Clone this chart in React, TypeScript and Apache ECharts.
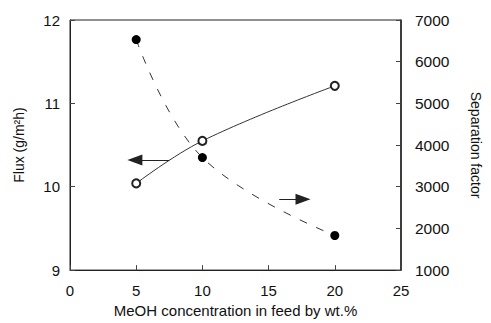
import React, { useEffect, useRef } from "react";
import * as echarts from "echarts";

const xTicks = [0, 5, 10, 15, 20, 25];
const meohConc = [5, 10, 20];
const fluxValues = [10.04, 10.55, 11.21];
const sepFactorValues = [6530, 3700, 1830];
const fluxArrow = [[7.5, 10.32], [4.9, 10.32]];
const sepArrow = [[15.8, 2700], [17.6, 2700]];

export default function App() {
  const ref = useRef<HTMLDivElement>(null);
  useEffect(() => {
    if (!ref.current) return;
    const chart = echarts.init(ref.current, undefined, { renderer: "svg" });
    const font = "Liberation Sans";
    chart.setOption({
      animation: false,
      backgroundColor: "#fff",
      textStyle: { fontFamily: font },
      grid: {
        left: 70,
        right: 78,
        top: 20,
        bottom: 48,
        show: true,
        borderColor: "#222",
        borderWidth: 1,
      },
      xAxis: {
        type: "value",
        min: xTicks[0],
        max: xTicks[xTicks.length - 1],
        interval: 5,
        name: "MeOH concentration in feed by wt.%",
        nameLocation: "middle",
        nameGap: 32,
        nameTextStyle: { color: "#111", fontSize: 15, fontFamily: font },
        axisLine: { lineStyle: { color: "#222", width: 1 } },
        axisTick: { inside: true, length: 5, lineStyle: { color: "#444" } },
        axisLabel: { color: "#111", fontSize: 15, margin: 13, fontFamily: font },
        splitLine: { show: false },
      },
      yAxis: [
        {
          type: "value",
          min: 9,
          max: 12,
          interval: 1,
          position: "left",
          name: "Flux (g/m²h)",
          nameLocation: "middle",
          nameGap: 44,
          nameTextStyle: { color: "#111", fontSize: 14, fontFamily: font },
          axisLine: { show: true, lineStyle: { color: "#222", width: 1 } },
          axisTick: { show: true, inside: true, length: 5, lineStyle: { color: "#444" } },
          axisLabel: { color: "#111", fontSize: 15, margin: 10, fontFamily: font },
          splitLine: { show: false },
        },
        {
          type: "value",
          min: 1000,
          max: 7000,
          interval: 1000,
          position: "right",
          name: "Separation factor",
          nameLocation: "middle",
          nameRotate: -90,
          nameGap: 68,
          nameTextStyle: { color: "#111", fontSize: 14, fontFamily: font },
          axisLine: { show: true, lineStyle: { color: "#222", width: 1.5 } },
          axisTick: { show: true, inside: true, length: 5, lineStyle: { color: "#444" } },
          axisLabel: {
            color: "#111",
            fontSize: 15.5,
            margin: 14,
            fontFamily: font,
            formatter: (v: number) => String(v),
          },
          splitLine: { show: false },
        },
      ],
      series: [
        {
          name: "Flux",
          type: "line",
          yAxisIndex: 0,
          smooth: 0.4,
          data: meohConc.map((x, i) => [x, fluxValues[i]]),
          symbol: "emptyCircle",
          symbolSize: 8,
          lineStyle: { color: "#333", width: 1 },
          itemStyle: { color: "#222", borderColor: "#222", borderWidth: 1 },
          markLine: {
            silent: true,
            symbol: ["none", "triangle"],
            symbolSize: [11, 15],
            label: { show: false },
            lineStyle: { color: "#222", width: 1, type: "solid" },
            data: [[{ coord: fluxArrow[0] }, { coord: fluxArrow[1] }]],
          },
        },
        {
          name: "Separation factor",
          type: "line",
          yAxisIndex: 1,
          smooth: 0.4,
          data: meohConc.map((x, i) => [x, sepFactorValues[i]]),
          symbol: "circle",
          symbolSize: 9,
          lineStyle: { color: "#333", width: 1, type: [8, 10] },
          itemStyle: { color: "#000" },
          markLine: {
            silent: true,
            symbol: ["none", "triangle"],
            symbolSize: [11, 15],
            label: { show: false },
            lineStyle: { color: "#222", width: 1, type: "solid" },
            data: [[{ coord: sepArrow[0] }, { coord: sepArrow[1] }]],
          },
        },
      ],
    });
    return () => chart.dispose();
  }, []);
  return (
    <div
      ref={ref}
      style={{ position: "absolute", left: 0, top: 0, width: 491, height: 323 }}
    />
  );
}
